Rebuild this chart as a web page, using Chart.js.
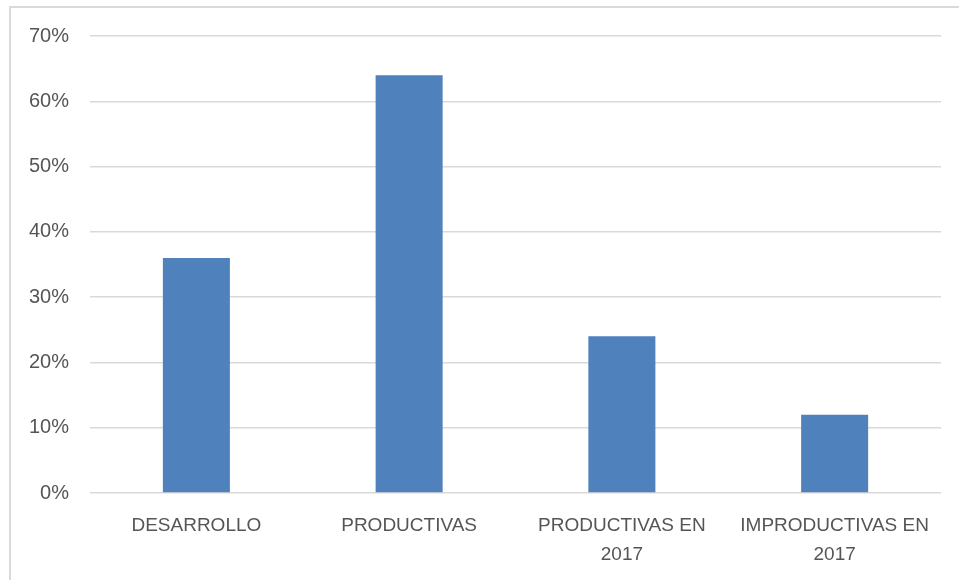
<!DOCTYPE html>
<html>
<head>
<meta charset="utf-8">
<script src="https://cdn.jsdelivr.net/npm/chart.js@4/dist/chart.umd.min.js"></script>
<style>
  body { margin: 0; background: #fff; }
  #wrap { position: relative; width: 959px; height: 580px; overflow: hidden; }
  #marco { position: absolute; left: 9px; top: 6px; width: 980px; height: 600px; border: 2px solid #d9d9d9; box-sizing: border-box; }
  canvas { position: absolute; left: 0; top: 0; }
</style>
</head>
<body>
<div id="wrap">
  <div id="marco"></div>
  <canvas id="grafico" width="959" height="580"></canvas>
</div>
<script>
const categorias = ["DESARROLLO", "PRODUCTIVAS", ["PRODUCTIVAS EN", "2017"], ["IMPRODUCTIVAS EN", "2017"]];
const porcentajes = [36, 64, 24, 12];
const marcasY = [0, 10, 20, 30, 40, 50, 60, 70];

const ctx = document.getElementById("grafico");

new Chart(ctx, {
  type: "bar",
  data: {
    labels: categorias,
    datasets: [{
      data: porcentajes,
      backgroundColor: "#4f81bd",
      barPercentage: 0.315,
      categoryPercentage: 1,
    }],
  },
  options: {
    responsive: false,
    animation: false,
    layout: { padding: { top: 36, right: 18, left: 0, bottom: 0 } },
    plugins: { legend: { display: false }, tooltip: { enabled: false } },
    scales: {
      x: {
        grid: { display: false, drawTicks: false },
        border: { display: false },
        ticks: {
          color: "#555555",
          font: { family: "Liberation Sans", size: 19, lineHeight: 1.5 },
          padding: 19,
          maxRotation: 0,
          autoSkip: false,
        },
        afterFit: (s) => { s.height = 87; },
      },
      y: {
        min: 0,
        max: 70,
        afterBuildTicks: (s) => { s.ticks = marcasY.map((v) => ({ value: v })); },
        grid: { color: "#d9d9d9", lineWidth: 1.5, drawTicks: false },
        border: { display: false },
        ticks: {
          color: "#555555",
          font: { family: "Liberation Sans", size: 20 },
          padding: 21,
          callback: (v) => v + "%",
        },
        afterFit: (s) => { s.width = 90; },
      },
    },
  },
});
</script>
</body>
</html>
